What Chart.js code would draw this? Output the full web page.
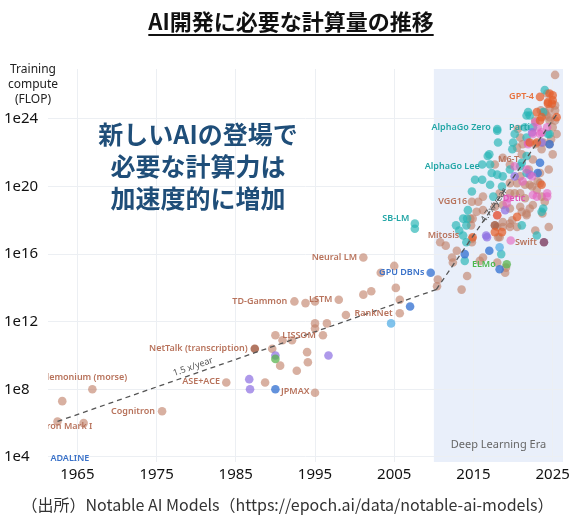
<!DOCTYPE html>
<html lang="ja">
<head>
<meta charset="UTF-8">
<title>AI開発に必要な計算量の推移</title>
<style>
  body { margin: 0; background: #fff; font-family: "Noto Sans CJK JP", "Noto Sans", sans-serif; }
  .wrap { position: relative; width: 575px; height: 530px; overflow: hidden; }
  canvas { position: absolute; left: 0; top: 0; }
  .title { position: absolute; top: 4px; left: 0; width: 582px; text-align: center; font-weight: bold; font-size: 22px;
           text-decoration: underline; text-decoration-thickness: 2px; text-underline-offset: 4px; color: #111; }
  .ytitle { position: absolute; top: 61px; left: 0; width: 66px; text-align: center; font-family: "Noto Sans", sans-serif;
            font-size: 12px; line-height: 15px; color: #222; }
  .message { position: absolute; top: 117px; left: 48px; width: 300px; text-align: center; font-weight: bold;
             font-size: 25px; line-height: 32px; color: #1f4e79; }
  .source { position: absolute; top: 492px; left: 0; width: 575px; text-align: center; font-size: 16px; color: #333; }
</style>
</head>
<body>
<div class="wrap">
  <canvas id="computeChart" width="575" height="530"></canvas>
  <div class="title">AI開発に必要な計算量の推移</div>
  <div class="ytitle">Training<br>compute<br>(FLOP)</div>
  <div class="message">新しいAIの登場で<br>必要な計算力は<br>加速度的に増加</div>
  <div class="source">（出所）Notable AI Models（https://epoch.ai/data/notable-ai-models）</div>
</div>

<script src="https://cdn.jsdelivr.net/npm/chart.js"></script>
<script>
  // points as [publication year, log10 of training FLOP]
  const brownPts = [
    [1962.5, 6.1], [1965.8, 6.0], [1963.1, 7.3], [1966.9, 8.0], [1975.7, 6.7], [1983.8, 8.4], [1988.7, 8.4],
    [1989.6, 10.4], [1990.0, 11.2], [1990.9, 10.9], [1992.1, 10.9], [1990.6, 9.4], [1992.7, 9.1],
    [1992.4, 13.2], [1993.8, 13.1], [1995.0, 13.2], [1998.0, 13.3], [2001.1, 13.6], [2002.1, 13.8],
    [2001.1, 15.8], [2003.3, 14.9], [2005.0, 15.3], [2005.2, 14.0], [2005.7, 13.3], [2005.7, 12.5],
    [1998.9, 12.4], [1996.5, 11.9], [1995.0, 11.9], [1995.0, 11.6], [1996.0, 11.2], [1994.0, 10.2],
    [1994.1, 9.6], [1995.0, 7.8],
    [2010.4, 14.1], [2010.5, 14.5], [2013.5, 13.9], [2014.2, 14.7], [2012.4, 15.5], [2012.3, 15.8],
    [2012.9, 16.2], [2011.5, 16.5], [2010.8, 16.7], [2014.8, 16.9], [2014.8, 16.7], [2014.7, 17.7],
    [2014.9, 18.1], [2018.0, 17.6], [2018.7, 17.6], [2019.6, 17.6], [2018.3, 17.0], [2018.0, 15.5],
    [2019.1, 15.2], [2019.0, 14.9], [2016.2, 15.8], [2015.8, 15.6],
    [2014.8, 19.1], [2015.6, 19.1], [2016.2, 19.4], [2014.6, 18.1], [2015.4, 18.5], [2016.2, 18.6],
    [2020.2, 19.6], [2020.9, 19.6], [2021.5, 19.3], [2022.1, 18.7], [2021.1, 18.5], [2021.7, 18.3],
    [2019.9, 18.0], [2019.6, 20.2], [2020.9, 20.6], [2023.4, 20.8], [2023.4, 20.2], [2022.4, 20.0],
    [2023.0, 19.8], [2025.0, 21.9], [2022.5, 21.6], [2019.6, 21.3], [2020.5, 22.3], [2023.6, 22.2],
    [2021.1, 21.9], [2018.7, 21.7], [2017.7, 21.3], [2023.1, 20.3], [2024.0, 19.1],
    [2025.3, 26.6], [2024.3, 25.5], [2025.3, 24.8], [2024.6, 24.6], [2022.8, 23.9], [2024.6, 23.9],
    [2025.3, 23.9], [2025.0, 23.5], [2020.6, 23.4], [2020.9, 22.9], [2023.8, 22.6], [2021.2, 22.5],
    [2024.5, 21.0], [2022.0, 21.0], [2024.8, 22.8], [2021.5, 20.1], [2023.5, 24.5], [2024.2, 24.2],
    [2023.7, 18.4], [2024.5, 17.6], [2022.8, 17.4],
    [2025.3, 24.5], [2024.0, 24.4], [2024.6, 24.1], [2025.5, 23.1], [2022.8, 22.5], [2024.6, 22.5],
    [2020.5, 20.2], [2022.1, 20.1], [2018.3, 19.6], [2019.6, 19.6], [2023.6, 19.4], [2017.7, 18.8],
    [2018.7, 18.9], [2019.6, 18.7], [2020.9, 18.8], [2021.7, 18.4], [2022.5, 18.9], [2018.7, 17.9],
    [2019.6, 17.8], [2020.5, 17.6], [2018.1, 17.0]
  ];
  const darkBrownPts = [[1987.4, 10.4], [2017.7, 17.7]];
  const plumPts = [[2023.9, 16.7]];
  const tealPts = [
    [2007.6, 17.8], [2007.6, 17.5],
    [2013.9, 15.6], [2014.1, 16.7], [2013.7, 17.1], [2012.8, 17.7], [2013.2, 17.4], [2014.1, 17.7], [2014.2, 18.1],
    [2018.5, 16.0], [2021.1, 17.7], [2023.0, 17.1],
    [2018.1, 22.6], [2016.8, 21.8], [2016.1, 21.3], [2017.1, 21.3], [2015.2, 20.4], [2016.1, 20.4], [2014.8, 19.7],
    [2017.1, 20.1], [2017.5, 19.4], [2014.3, 18.6], [2013.7, 18.1], [2018.6, 20.0], [2021.7, 20.8], [2023.8, 18.7],
    [2021.7, 21.8], [2021.1, 21.4], [2019.9, 22.2], [2017.0, 21.9], [2018.0, 23.4], [2018.0, 23.3],
    [2024.0, 25.7], [2023.8, 24.4], [2022.1, 24.2], [2021.7, 24.2], [2021.5, 23.5], [2022.5, 23.5],
    [2020.2, 23.1], [2021.7, 22.9], [2024.6, 23.1], [2020.0, 22.6],
    [2021.9, 24.4], [2024.4, 23.1], [2017.3, 20.8], [2018.0, 20.7], [2018.7, 20.6], [2019.6, 21.0],
    [2020.9, 21.2], [2023.6, 18.5]
  ];
  const bluePts = [[1990.0, 8.0], [2007.0, 12.9], [2009.6, 14.9], [2013.9, 16.0], [2017.0, 16.2], [2018.3, 15.1],
    [2023.4, 21.4], [2024.6, 22.5], [2023.1, 20.8]];
  const lightBluePts = [[2004.6, 11.9], [2018.3, 16.4]];
  const purplePts = [[1986.7, 8.6], [1986.8, 8.0], [1990.0, 10.0], [1996.7, 10.0], [2016.7, 17.0], [2016.6, 17.1],
    [2020.2, 20.6], [2019.0, 18.6], [2022.4, 23.2], [2023.6, 22.6], [2022.1, 20.7]];
  const pinkPts = [[2019.7, 16.8], [2023.0, 19.4], [2024.3, 19.4], [2019.2, 19.0], [2019.4, 19.3], [2018.0, 18.3], [2022.4, 20.6],
    [2024.3, 19.6], [2020.2, 21.2], [2021.9, 22.5], [2024.3, 23.5], [2022.5, 23.1], [2023.4, 23.1],
    [2022.8, 23.8], [2023.1, 23.5], [2023.6, 23.2], [2021.9, 22.6], [2021.2, 20.3], [2022.5, 19.5], [2021.7, 21.0]];
  const redPts = [[2014.9, 17.0], [2018.6, 17.3], [2020.5, 18.2], [2023.6, 20.1], [2023.0, 22.6], [2023.4, 25.3], [2025.0, 25.4],
    [2025.0, 25.1], [2024.4, 24.9], [2023.0, 24.4], [2023.4, 23.9], [2022.1, 22.6],
    [2024.6, 25.5], [2024.4, 25.0], [2024.9, 24.9], [2023.6, 24.1], [2025.5, 24.1], [2018.0, 18.3], [2017.7, 17.3]];
  const greenPts = [[1990.0, 9.8], [2019.2, 15.4]];

  // dashed trend lines
  const trendPre = [[1962.5, 6.1], [2010.3, 13.9]];
  const trendDeep = [[2010.3, 13.9], [2025.7, 24.4]];

  const xTicks = [1965, 1975, 1985, 1995, 2005, 2015, 2025];
  const yTickExps = [4, 8, 12, 16, 20, 24];
  const deepLearningStart = 2010;

  // named systems: [text, year, log10 FLOP, colour, align]
  const modelLabels = [
    ['ADALINE', 1961.6, 3.94, '#3a72c9', 'left'],
    ['Perceptron Mark I', 1966.9, 5.83, '#b8735c', 'right'],
    ['Pandemonium (morse)', 1971.3, 8.73, '#b8735c', 'right'],
    ['Cognitron', 1974.8, 6.72, '#b8735c', 'right'],
    ['NetTalk (transcription)', 1986.5, 10.4, '#b8735c', 'right'],
    ['ASE+ACE', 1983.0, 8.44, '#b8735c', 'right'],
    ['TD-Gammon', 1991.5, 13.2, '#b8735c', 'right'],
    ['LSTM', 1997.2, 13.3, '#b8735c', 'right'],
    ['LISSOM', 1995.1, 11.2, '#b8735c', 'right'],
    ['JPMAX', 1994.3, 7.85, '#b8735c', 'right'],
    ['Neural LM', 2000.3, 15.8, '#b8735c', 'right'],
    ['GPU DBNs', 2008.8, 14.9, '#3a72c9', 'right'],
    ['RankNet', 2004.8, 12.5, '#b8735c', 'right'],
    ['SB-LM', 2006.9, 18.1, '#22a6a6', 'right'],
    ['VGG16', 2014.2, 19.1, '#b8735c', 'right'],
    ['Mitosis', 2013.2, 17.1, '#b8735c', 'right'],
    ['ELMo', 2014.8, 15.4, '#4cb84c', 'left'],
    ['Swift', 2023.0, 16.7, '#b8735c', 'right'],
    ['Detic', 2018.7, 19.3, '#e052b5', 'left'],
    ['M6-T', 2018.1, 21.6, '#b8735c', 'left'],
    ['AlphaGo Lee', 2015.8, 21.2, '#22a6a6', 'right'],
    ['AlphaGo Zero', 2017.2, 23.5, '#22a6a6', 'right'],
    ['Parti', 2019.5, 23.5, '#22a6a6', 'left'],
    ['GPT-4', 2019.5, 25.3, '#e8703a', 'left']
  ];

  const toXY = pts => pts.map(p => ({ x: p[0], y: Math.pow(10, p[1]) }));

  function dots(pts, color) {
    return { data: toXY(pts), backgroundColor: color, borderWidth: 0, pointRadius: 4.3 };
  }
  function trend(pts) {
    return { data: toXY(pts), showLine: true, borderColor: '#555', borderWidth: 1.3, borderDash: [5, 4], pointRadius: 0 };
  }

  const notes = {
    id: 'notes',
    beforeDraw(chart) {
      const { ctx, chartArea, scales } = chart;
      const x0 = scales.x.getPixelForValue(deepLearningStart);
      ctx.save();
      ctx.fillStyle = '#e9effa';
      ctx.fillRect(x0, chartArea.top, chartArea.right - x0, chartArea.bottom - chartArea.top);
      ctx.restore();
    },
    afterDatasetsDraw(chart) {
      const { ctx, chartArea, scales } = chart;
      const px = v => scales.x.getPixelForValue(v);
      const py = e => scales.y.getPixelForValue(Math.pow(10, e));
      ctx.save();
      ctx.beginPath();
      ctx.rect(chartArea.left, chartArea.top, chartArea.right - chartArea.left, chartArea.bottom - chartArea.top);
      ctx.clip();
      ctx.font = '600 9px "Noto Sans", sans-serif';
      ctx.textBaseline = 'middle';
      modelLabels.forEach(([text, yr, e, color, align]) => {
        ctx.fillStyle = color;
        ctx.textAlign = align;
        ctx.fillText(text, px(yr), py(e));
      });

      // growth-rate labels along the trend lines
      const rateLabel = (text, line, at, lift) => {
        const ax = px(line[0][0]), ay = py(line[0][1]);
        const bx = px(line[1][0]), by = py(line[1][1]);
        const ang = Math.atan2(by - ay, bx - ax);
        const t = (at - line[0][0]) / (line[1][0] - line[0][0]);
        ctx.save();
        ctx.translate(ax + (bx - ax) * t, ay + (by - ay) * t);
        ctx.rotate(ang);
        ctx.fillStyle = '#555';
        ctx.font = '9px "Noto Sans", sans-serif';
        ctx.textAlign = 'center';
        ctx.fillText(text, 0, -lift);
        ctx.restore();
      };
      rateLabel('1.5 x/year', trendPre, 1979.9, 7);
      rateLabel('4.7x/year', trendDeep, 2017.6, 0);

      ctx.fillStyle = '#666';
      ctx.font = '11px "Noto Sans", sans-serif';
      ctx.textAlign = 'center';
      ctx.fillText('Deep Learning Era', (px(deepLearningStart) + chartArea.right) / 2, chartArea.bottom - 17);
      ctx.restore();
    }
  };

  const ctx = document.getElementById('computeChart').getContext('2d');
  const computeChart = new Chart(ctx, {
    type: 'scatter',
    data: {
      datasets: [
        trend(trendPre),
        trend(trendDeep),
        dots(redPts, 'rgba(228, 95, 45, 0.72)'),
        dots(pinkPts, 'rgba(228, 95, 190, 0.6)'),
        dots(greenPts, 'rgba(90, 180, 80, 0.75)'),
        dots(purplePts, 'rgba(140, 110, 225, 0.7)'),
        dots(lightBluePts, 'rgba(85, 175, 230, 0.75)'),
        dots(bluePts, 'rgba(55, 115, 210, 0.78)'),
        dots(tealPts, 'rgba(40, 182, 182, 0.68)'),
        dots(plumPts, 'rgba(130, 70, 105, 0.85)'),
        dots(darkBrownPts, 'rgba(165, 95, 70, 0.85)'),
        dots(brownPts, 'rgba(192, 128, 104, 0.62)')
      ]
    },
    options: {
      responsive: false,
      animation: false,
      layout: { padding: { top: 69, right: 12, bottom: 40, left: 4 } },
      plugins: { legend: { display: false }, tooltip: { enabled: false } },
      scales: {
        x: {
          type: 'linear',
          min: 1961.3,
          max: 2026.3,
          afterBuildTicks: axis => { axis.ticks = xTicks.map(v => ({ value: v })); },
          afterFit: axis => { axis.height = 28; },
          grid: { color: '#eceff3', drawTicks: false },
          border: { display: false },
          ticks: { color: '#111', padding: 4, font: { family: '"Noto Sans", sans-serif', size: 15 }, callback: v => String(v) }
        },
        y: {
          type: 'logarithmic',
          min: Math.pow(10, 3.7),
          max: Math.pow(10, 26.95),
          afterBuildTicks: axis => { axis.ticks = yTickExps.map(e => ({ value: Math.pow(10, e) })); },
          afterFit: axis => { axis.width = 44; },
          grid: { color: '#eceff3', drawTicks: false },
          border: { display: false },
          ticks: {
            color: '#111', crossAlign: 'far', padding: 4,
            font: { family: '"Noto Sans", sans-serif', size: 15 },
            callback: v => '1e' + Math.round(Math.log10(v))
          }
        }
      }
    },
    plugins: [notes]
  });
</script>
</body>
</html>
